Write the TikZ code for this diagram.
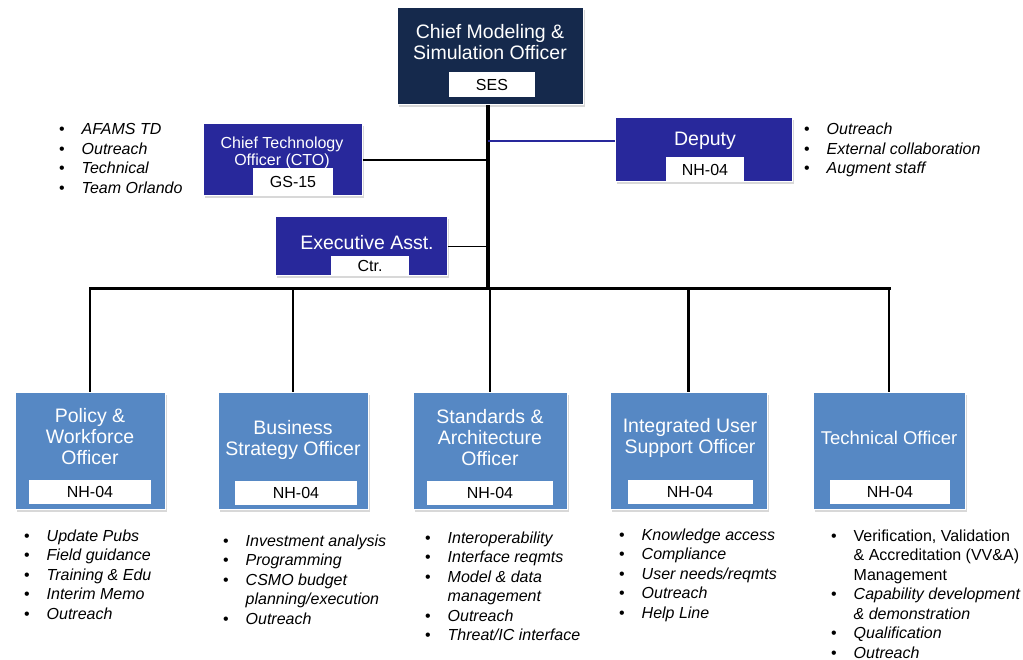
\documentclass[tikz,border=0pt]{standalone}
\usepackage{fontspec}
\setmainfont{Liberation Sans}
\usetikzlibrary{shadows,calc}
\definecolor{navy}{RGB}{21,41,76}
\definecolor{royal}{RGB}{40,40,155}
\definecolor{steel}{RGB}{86,136,196}
% bullet and hanging indent for the duty lists
\newcommand{\bul}{\makebox[22.5pt][l]{\upshape\textbullet}}
\newcommand{\hang}{\hskip22.5pt}
\begin{document}
\begin{tikzpicture}[x=1pt,y=-1pt,
  orgbox/.style={draw=white,line width=1pt,inner sep=0pt,
    drop shadow={shadow xshift=2pt,shadow yshift=-2.5pt,opacity=0.3,fill=black!50}},
  execbox/.style={orgbox,fill=navy},
  staffbox/.style={orgbox,fill=royal},
  officebox/.style={orgbox,fill=steel},
  grade/.style={fill=white,inner sep=0pt,font=\fontsize{16}{17}\selectfont},
  title/.style={text=white,align=center,inner sep=0pt,font=\fontsize{19.5}{21}\selectfont},
  smalltitle/.style={title,font=\fontsize{16}{17.5}\selectfont},
  duties/.style={anchor=base west,inner sep=0pt,font=\fontsize{16}{19.5}\selectfont\itshape},
  tie/.style={line width=1.5pt},
]
\useasboundingbox[fill=white] (0,0) rectangle (1023,660);

% ---- chief ----
\node[execbox,minimum width=186pt,minimum height=97pt] (chief) at (490,56.5) {};
\node[title] (chieft) at (490,42) {Chief Modeling \&\\Simulation Officer};
\node[grade,minimum width=86pt,minimum height=25pt] (chiefg) at (492,84.5) {SES};

% ---- chief technology officer ----
\node[staffbox,minimum width=159pt,minimum height=72pt] (cto) at (282.5,160) {};
\node[smalltitle] (ctot) at (282,153) {Chief Technology\\Officer (CTO)};
\node[grade,minimum width=80pt,minimum height=27pt] (ctog) at (293,181.5) {GS-15};

% ---- deputy ----
\node[staffbox,minimum width=177pt,minimum height=64pt] (dep) at (703.5,150) {};
\node[title] (dept) at (705,141) {Deputy};
\node[grade,minimum width=78pt,minimum height=25pt] (depg) at (705,169.5) {NH-04};

% ---- executive assistant ----
\node[staffbox,minimum width=172pt,minimum height=59pt] (ea) at (361,246.5) {};
\node[title] (eat) at (367,243) {Executive Asst.};
\node[grade,minimum width=78pt,minimum height=19pt] (eag) at (370,265.5) {Ctr.};

% ---- offices ----
\node[officebox,minimum width=150pt,minimum height=117pt] (pol) at (90,450.5) {};
\node[title] (polt) at (90,437) {Policy \&\\Workforce\\Officer};
\node[grade,minimum width=122pt,minimum height=24pt] (polg) at (90,491.5) {NH-04};

\node[officebox,minimum width=150pt,minimum height=117pt] (bus) at (293,450.5) {};
\node[title] (bust) at (293,440) {Business\\Strategy Officer};
\node[grade,minimum width=122pt,minimum height=24pt] (busg) at (296,492.5) {NH-04};

\node[officebox,minimum width=154pt,minimum height=117pt] (std) at (490,450.5) {};
\node[title] (stdt) at (490,437.5) {Standards \&\\Architecture\\Officer};
\node[grade,minimum width=126pt,minimum height=24pt] (stdg) at (490,492.5) {NH-04};

\node[officebox,minimum width=157pt,minimum height=117pt] (ius) at (688.5,450.5) {};
\node[title] (iust) at (690,437.5) {Integrated User\\Support Officer};
\node[grade,minimum width=125pt,minimum height=24pt] (iusg) at (690,491.5) {NH-04};

\node[officebox,minimum width=152pt,minimum height=117pt] (tec) at (889,450.5) {};
\node[title,font=\fontsize{18.5}{21}\selectfont] (tect) at (889,437.5) {Technical Officer};
\node[grade,minimum width=120pt,minimum height=24pt] (tecg) at (890,491.5) {NH-04};

% ---- reporting lines ----
\coordinate (hub) at (488,289);
\coordinate (depin) at ($(dep.north west)!0.36!(dep.south west)$);
\draw[line width=4pt] ($(chief.south)+(-2,0)$) -- (hub);
\draw[line width=3pt,line cap=rect] (pol.north |- hub) -- (tec.north |- hub);
\foreach \o in {pol,bus,std,ius,tec}
  \draw[line width=2.5pt] (\o.north |- hub) -- (\o.north);
\draw[tie] (cto.east) -- (cto.east -| hub);
\draw[tie,draw=royal] (depin) -- (depin -| hub);
\draw[tie] (ea.east) -- (ea.east -| hub);

% ---- duty lists ----
\node[duties] (ctod) at (59,135) {\begin{tabular}[t]{@{}l@{}}
\bul AFAMS TD\\ \bul Outreach\\ \bul Technical\\ \bul Team Orlando\end{tabular}};
\node[duties] (depd) at (804,135) {\begin{tabular}[t]{@{}l@{}}
\bul Outreach\\ \bul External collaboration\\ \bul Augment staff\end{tabular}};
\node[duties] (pold) at (24,541) {\begin{tabular}[t]{@{}l@{}}
\bul Update Pubs\\ \bul Field guidance\\ \bul Training \& Edu\\ \bul Interim Memo\\ \bul Outreach\end{tabular}};
\node[duties] (busd) at (223,546) {\begin{tabular}[t]{@{}l@{}}
\bul Investment analysis\\ \bul Programming\\ \bul CSMO budget\\ \hang planning/execution\\ \bul Outreach\end{tabular}};
\node[duties] (stdd) at (425,543) {\begin{tabular}[t]{@{}l@{}}
\bul Interoperability\\ \bul Interface reqmts\\ \bul Model \& data\\ \hang management\\ \bul Outreach\\ \bul Threat/IC interface\end{tabular}};
\node[duties] (iusd) at (619,540) {\begin{tabular}[t]{@{}l@{}}
\bul Knowledge access\\ \bul Compliance\\ \bul User needs/reqmts\\ \bul Outreach\\ \bul Help Line\end{tabular}};
\node[duties] (tecd) at (831,541) {\begin{tabular}[t]{@{}l@{}}
\bul \upshape Verification, Validation\\ \hang\upshape \& Accreditation (VV\&A)\\ \hang\upshape Management\\ \bul Capability development\\ \hang \& demonstration\\ \bul Qualification\\ \bul Outreach\end{tabular}};
\end{tikzpicture}
\end{document}
